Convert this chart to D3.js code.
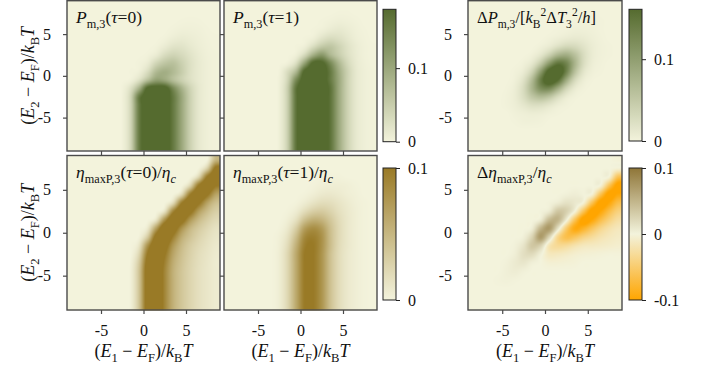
<!DOCTYPE html>
<html><head><meta charset="utf-8">
<script src="https://cdn.jsdelivr.net/npm/d3@7"></script>
<style>
body{margin:0;background:#fff}
svg{display:block}
text{font-family:"Liberation Serif","DejaVu Serif",serif;fill:#111}
</style></head>
<body><svg id="chart" width="706" height="370"></svg>
<script>
// ---------------- DATA (grid values, units of 0.01) ----------------
const gridX = [-8.5,-7.5,-6.5,-5.5,-4.5,-3.5,-2.5,-1.5,-0.5,0.5,1.5,2.5,3.5,4.5,5.5,6.5,7.5,8.5];
const gridY = [8.5,7.5,6.5,5.5,4.5,3.5,2.5,1.5,0.5,-0.5,-1.5,-2.5,-3.5,-4.5,-5.5,-6.5,-7.5,-8.5];
const xTicks = [-5, 0, 5];
const yTicks = [5, 0, -5];
const axisDomain = [-9, 9];

// P_m,3(tau=0)
const pm0 = [
[0,0,0,0,0,0,0,0,0,0,0,0,0,0,0,0,0,0],
[0,0,0,0,0,0,0,0,0,0,0,0,0,0,0,0,0,0],
[0,0,0,0,0,0,0,0,0,0,0,0,0,0.1,0.15,0.1,0,0],
[0,0,0,0,0,0,0,0,0,0,0,0,0.2,0.4,0.4,0.3,0.1,0],
[0,0,0,0,0,0,0,0,0,0,0,0.2,0.7,1,0.8,0.5,0.2,0.1],
[0,0,0,0,0,0,0,0,0,0,0.2,1,2,2,1.3,0.7,0.3,0.1],
[0,0,0,0,0,0,0,0,0,0.2,1,3,4,3.2,2,1,0.4,0.2],
[0,0,0,0,0,0,0,0,0.2,1,4,6,6.5,4.5,2.5,1.2,0.5,0.2],
[0,0,0,0,0,0,0,0.1,0.5,3,7.5,9,7.5,5,2.5,1.2,0.5,0.2],
[0,0,0,0,0,0,0,0.3,2.5,7,11,10,7,4.5,2.5,1.2,0.5,0.2],
[0,0,0,0,0,0,0.2,2.5,9,19,20,20,14,8.5,4,1.5,0.5,0.2],
[0,0,0,0,0,0,0.3,4,16,20,20,20,16,10,4.5,1.5,0.5,0.2],
[0,0,0,0,0,0,0.3,4,16,20,20,20,16,10,4.5,1.5,0.5,0.2],
[0,0,0,0,0,0,0.3,4,16,20,20,20,16,10,4.5,1.5,0.5,0.2],
[0,0,0,0,0,0,0.3,4,16,20,20,20,16,10,4.5,1.5,0.5,0.2],
[0,0,0,0,0,0,0.3,4,16,20,20,20,16,10,4.5,1.5,0.5,0.2],
[0,0,0,0,0,0,0.3,4,16,20,20,20,16,10,4.5,1.5,0.5,0.2],
[0,0,0,0,0,0,0.3,4,16,20,20,20,16,10,4.5,1.5,0.5,0.2]
];
// P_m,3(tau=1)
const pm1 = [
[0,0,0,0,0,0,0,0,0,0,0,0,0,0,0,0,0,0],
[0,0,0,0,0,0,0,0,0,0,0,0,0,0.1,0.1,0,0,0],
[0,0,0,0,0,0,0,0,0,0,0,0.1,0.3,0.5,0.4,0.2,0,0],
[0,0,0,0,0,0,0,0,0,0,0.1,0.4,1,1.3,0.9,0.4,0.1,0],
[0,0,0,0,0,0,0,0,0,0.1,0.5,2,3,2.5,1.5,0.6,0.2,0],
[0,0,0,0,0,0,0,0,0.1,0.6,3,5.5,6,4.2,2.3,1,0.3,0.1],
[0,0,0,0,0,0,0,0,0.5,3.5,9,12,8,5,2.6,1.1,0.3,0.1],
[0,0,0,0,0,0,0,0.4,3,11,19,19,14,8,3.6,1.3,0.4,0.1],
[0,0,0,0,0,0,0.2,3,8,19,20,20,16,9.5,4.5,1.5,0.5,0.2],
[0,0,0,0,0,0,0.4,4,14,20,20,20,16,10,4.5,1.5,0.5,0.2],
[0,0,0,0,0,0,0.5,5,17,20,20,20,17,10,4.5,1.5,0.5,0.2],
[0,0,0,0,0,0,0.5,5,17,20,20,20,17,10,4.5,1.5,0.5,0.2],
[0,0,0,0,0,0,0.5,5,17,20,20,20,17,10,4.5,1.5,0.5,0.2],
[0,0,0,0,0,0,0.5,5,17,20,20,20,17,10,4.5,1.5,0.5,0.2],
[0,0,0,0,0,0,0.5,5,17,20,20,20,17,10,4.5,1.5,0.5,0.2],
[0,0,0,0,0,0,0.5,5,17,20,20,20,17,10,4.5,1.5,0.5,0.2],
[0,0,0,0,0,0,0.5,5,17,20,20,20,17,10,4.5,1.5,0.5,0.2],
[0,0,0,0,0,0,0.5,5,17,20,20,20,17,10,4.5,1.5,0.5,0.2]
];
// Delta P_m,3 / [kB^2 dT3^2/h]
const dPm = [
[0,0,0,0,0,0,0,0,0,0,0,0,0,0,0,0,0,0],
[0,0,0,0,0,0,0,0,0,0,0,0,0,0,0.1,0,0,0],
[0,0,0,0,0,0,0,0,0,0,0,0,0.1,0.2,0.2,0.1,0,0],
[0,0,0,0,0,0,0,0,0,0,0.1,0.2,0.4,0.4,0.3,0.1,0,0],
[0,0,0,0,0,0,0,0,0,0.2,0.5,0.9,1.1,0.9,0.5,0.2,0,0],
[0,0,0,0,0,0,0,0,0.3,1.0,2.3,3.3,3.0,1.8,0.8,0.3,0.1,0],
[0,0,0,0,0,0,0,0.3,1.5,4.1,7.3,8.2,5.9,2.7,0.9,0.3,0.1,0],
[0,0,0,0,0,0,0.3,1.4,4.9,10.6,14.8,13.1,7.4,2.7,0.7,0.2,0,0],
[0,0,0,0,0,0.2,0.9,3.8,10.3,17.6,19.2,13.3,5.9,1.7,0.4,0.1,0,0],
[0,0,0,0,0,0.4,2.0,6.6,13.9,18.6,15.9,8.6,3.0,0.7,0.1,0,0,0],
[0,0,0,0,0.1,0.7,2.8,7.3,11.9,12.5,8.4,3.6,1.0,0.2,0,0,0,0],
[0,0,0,0,0.2,0.8,2.5,5.1,6.5,5.4,2.8,0.9,0.2,0,0,0,0,0],
[0,0,0,0,0.2,0.6,1.4,2.3,2.3,1.5,0.6,0.2,0,0,0,0,0,0],
[0,0,0,0,0,0.3,0.5,0.7,0.6,0.3,0.1,0,0,0,0,0,0,0],
[0,0,0,0,0,0.1,0.3,0.3,0.2,0,0,0,0,0,0,0,0,0],
[0,0,0,0,0,0,0,0,0,0,0,0,0,0,0,0,0,0],
[0,0,0,0,0,0,0,0,0,0,0,0,0,0,0,0,0,0],
[0,0,0,0,0,0,0,0,0,0,0,0,0,0,0,0,0,0]
];
// eta_maxP,3(tau=0)/eta_c
const eta0 = [
[0,0,0,0,0,0,0,0,0,0,0,0,0,0,0,0,0.1,5],
[0,0,0,0,0,0,0,0,0,0,0,0,0,0,0,0.1,3,10.8],
[0,0,0,0,0,0,0,0,0,0,0,0,0,0,0,2.5,10.2,13],
[0,0,0,0,0,0,0,0,0,0,0,0,0,0,2.5,10.2,13,10.2],
[0,0,0,0,0,0,0,0,0,0,0,0,0,2,9.6,13,10.6,6.7],
[0,0,0,0,0,0,0,0,0,0,0,0,2,9.6,13,10.6,6.7,4.3],
[0,0,0,0,0,0,0,0,0,0,0,1.5,9,13,11,7,4.5,3],
[0,0,0,0,0,0,0,0,0,0,1.3,8,13,11.4,7.4,4.7,3.1,2.1],
[0,0,0,0,0,0,0,0,0,1.0,7,13,11.8,7.8,4.9,3.3,2.2,1.4],
[0,0,0,0,0,0,0,0,0.2,3.5,11.4,13,9.4,5.8,3.9,2.6,1.7,1.1],
[0,0,0,0,0,0,0,0,1.3,8,13,11.4,7.4,4.7,3.1,2.1,1.4,0.85],
[0,0,0,0,0,0,0,0,2.5,10.2,13,10.2,6.4,4.2,2.8,1.8,1.2,0.7],
[0,0,0,0,0,0,0,0.2,3.5,11.4,13,9.4,5.8,3.9,2.6,1.7,1.1,0.6],
[0,0,0,0,0,0,0,0.3,4,12,13,9,5.5,3.7,2.5,1.6,1.05,0.65],
[0,0,0,0,0,0,0,0.3,4,12,13,9,5.5,3.7,2.5,1.6,1.05,0.65],
[0,0,0,0,0,0,0,0.3,4,12,13,9,5.5,3.7,2.5,1.6,1.05,0.65],
[0,0,0,0,0,0,0,0.3,4,12,13,9,5.5,3.7,2.5,1.6,1.05,0.65],
[0,0,0,0,0,0,0,0.3,4,12,13,9,5.5,3.7,2.5,1.6,1.05,0.65]
];
// eta_maxP,3(tau=1)/eta_c
const eta1 = [
[0,0,0,0,0,0,0,0,0,0,0,0,0,0,0,0,0,0],
[0,0,0,0,0,0,0,0,0,0,0,0,0,0,0,0,0,0],
[0,0,0,0,0,0,0,0,0,0,0,0.1,0.1,0.1,0,0,0,0],
[0,0,0,0,0,0,0,0,0,0,0.1,0.3,0.4,0.4,0.3,0.1,0,0],
[0,0,0,0,0,0,0,0,0,0.1,0.4,0.8,0.9,0.7,0.4,0.2,0,0],
[0,0,0,0,0,0,0,0,0.1,0.6,1.3,1.8,1.7,1.2,0.7,0.3,0.1,0],
[0,0,0,0,0,0,0,0.1,0.6,1.9,3,3.3,2.6,1.6,0.9,0.4,0.1,0],
[0,0,0,0,0,0,0,0.4,1.6,4.2,5.6,5.2,3.6,2,1,0.4,0.1,0],
[0,0,0,0,0,0,0.1,0.9,3.2,7,8.3,7.2,4.3,2.2,1,0.4,0.1,0],
[0,0,0,0,0,0,0.3,1.5,4.6,8.7,9.5,8,4.5,2.2,1,0.4,0.1,0],
[0,0,0,0,0,0,0.4,2,5.6,9.5,10,8,4.5,2.1,1,0.4,0.1,0],
[0,0,0,0,0,0,0.5,2.4,6.2,10,10,7.8,4.2,2,0.9,0.4,0.1,0],
[0,0,0,0,0,0,0.5,2.4,6.2,10,10,7.8,4.2,2,0.9,0.4,0.1,0],
[0,0,0,0,0,0,0.5,2.4,6.2,10,10,7.8,4.2,2,0.9,0.4,0.1,0],
[0,0,0,0,0,0,0.5,2.4,6.2,10,10,7.8,4.2,2,0.9,0.4,0.1,0],
[0,0,0,0,0,0,0.5,2.4,6.2,10,10,7.8,4.2,2,0.9,0.4,0.1,0],
[0,0,0,0,0,0,0.5,2.4,6.2,10,10,7.8,4.2,2,0.9,0.4,0.1,0],
[0,0,0,0,0,0,0.5,2.4,6.2,10,10,7.8,4.2,2,0.9,0.4,0.1,0]
];
// Delta eta_maxP,3/eta_c
const dEta = [
[0,0,0,0,0,0,0,0,0,0,0,0,0,0,0,0,0,-0.2],
[0,0,0,0,0,0,0,0,0,0,0,0,0,0,0,0,0,-0.3],
[0,0,0,0,0,0,0,0,0,0,0,0,0,0,0,0,-0.3,-6],
[0,0,0,0,0,0,0,0,0,0,0,0,0,0,0,-0.3,-6,-10.9],
[0,0,0,0,0,0,0,0,0,0,0,0.2,0.4,0.1,-0.3,-6,-10.9,-9.7],
[0,0,0,0,0,0,0,0,0,0.1,0.6,1.4,0.9,-0.3,-6,-10.9,-9.7,-6.8],
[0,0,0,0,0,0,0,0,0.1,0.8,3.5,2.8,-0.1,-6,-10.9,-9.7,-6.8,-4.4],
[0,0,0,0,0,0,0,0,0.7,4.5,5,0.5,-6,-10.9,-9.7,-6.8,-4.4,-2.7],
[0,0,0,0,0,0,0,0.6,5,7,1.4,-5,-9.3,-8.2,-5.8,-3.7,-2.3,-1.5],
[0,0,0,0,0,0,0.3,2.6,7,2.4,-3.6,-6.5,-5.8,-4.1,-3.0,-2.0,-1.4,-1.0],
[0,0,0,0,0,0.2,1.2,3.5,2.6,-1.8,-3.2,-3.0,-2.1,-1.4,-1.2,-1.0,-0.8,-0.6],
[0,0,0,0,0,0.4,1.6,1.9,0.3,-1.3,-1.3,-1.0,-0.6,-0.4,-0.3,-0.2,-0.1,-0.1],
[0,0,0,0,0.2,0.7,1.0,0.3,0,-0.4,-0.4,-0.3,-0.2,0,0,0,0,0],
[0,0,0,0,0.3,0.5,0.2,0,0,0,0,0,0,0,0,0,0,0],
[0,0,0,0.1,0.2,0.1,0,0,0,0,0,0,0,0,0,0,0,0],
[0,0,0,0,0,0,0,0,0,0,0,0,0,0,0,0,0,0],
[0,0,0,0,0,0,0,0,0,0,0,0,0,0,0,0,0,0],
[0,0,0,0,0,0,0,0,0,0,0,0,0,0,0,0,0,0]
];
const gridUnit = 0.01;

// colour-bar ranges and ticks
const cbGreenDomain = [0, 0.18];
const cbDeltaPDomain = [0, 0.161];
const cbEtaDomain = [0, 0.1];
const cbDeltaEtaDomain = [-0.1, 0.1];
const cbTicksGreen = [0, 0.1];
const cbTicksEta = [0, 0.1];
const cbTicksDeltaEta = [-0.1, 0, 0.1];

// ---------------- STYLE / LAYOUT ----------------
const CREAM = "#f3f3dc";
const greenScale = d3.scaleLinear().domain(cbGreenDomain).range([CREAM, "#556b2f"]).clamp(true);
const deltaPScale = d3.scaleLinear().domain(cbDeltaPDomain).range([CREAM, "#556b2f"]).clamp(true);
const etaScale = d3.scaleLinear().domain(cbEtaDomain).range([CREAM, "#997a26"]).clamp(true);
const deltaEtaScale = d3.scaleLinear().domain([-0.1, 0, 0.1]).range(["#ffa500", CREAM, "#8f7638"]).clamp(true);

const cols = [[67,220],[224,377],[468,622]];
const rows = [[0.7,151],[155.5,310]];
const FRAME = "#4a4a4a";
const svg = d3.select("#chart");
svg.append("rect").attr("width",706).attr("height",370).attr("fill","#fff");

function richText(parent, x, y, parts, size) {
  const t = parent.append("text").attr("x", x).attr("y", y).attr("font-size", size);
  let cur = 0;
  parts.forEach(p => {
    let off = 0, fs = size;
    if (p.sub) { off = size * 0.3; fs = size * 0.7; }
    if (p.sup) { off = -size * 0.4; fs = size * 0.7; }
    const ts = t.append("tspan").text(p.t).attr("font-size", fs).attr("dy", off - cur);
    if (p.it) ts.attr("font-style", "italic");
    cur = off;
  });
  return t;
}

function sampleGrid(grid, xv, yv) {
  const fx = (xv - gridX[0]) / (gridX[1] - gridX[0]);
  const fy = (yv - gridY[0]) / (gridY[1] - gridY[0]);
  const nx = gridX.length, ny = gridY.length;
  const ci = i => Math.max(0, Math.min(nx - 1, i));
  const cj = j => Math.max(0, Math.min(ny - 1, j));
  const i0 = Math.floor(fx), j0 = Math.floor(fy);
  const tx = fx - i0, ty = fy - j0;
  const cr = (p0,p1,p2,p3,t) => p1 + 0.5*t*(p2-p0 + t*(2*p0-5*p1+4*p2-p3 + t*(3*(p1-p2)+p3-p0)));
  const rowv = [];
  for (let k = -1; k <= 2; k++) {
    const r = grid[cj(j0 + k)];
    rowv.push(cr(r[ci(i0-1)], r[ci(i0)], r[ci(i0+1)], r[ci(i0+2)], tx));
  }
  return cr(rowv[0], rowv[1], rowv[2], rowv[3], ty) * gridUnit;
}

function drawHeat(g, grid, color, x, y) {
  const [px0, px1] = x.range();
  const [py1, py0] = y.range();
  const w = Math.round(px1 - px0), h = Math.round(py1 - py0);
  const cv = document.createElement("canvas");
  cv.width = w; cv.height = h;
  const ctx = cv.getContext("2d");
  const img = ctx.createImageData(w, h);
  for (let j = 0; j < h; j++) {
    const yv = y.invert(py0 + j + 0.5);
    for (let i = 0; i < w; i++) {
      const xv = x.invert(px0 + i + 0.5);
      const c = d3.rgb(color(sampleGrid(grid, xv, yv)));
      const o = 4 * (j * w + i);
      img.data[o] = c.r; img.data[o+1] = c.g; img.data[o+2] = c.b; img.data[o+3] = 255;
    }
  }
  ctx.putImageData(img, 0, 0);
  g.append("image").attr("x", px0).attr("y", py0).attr("width", w).attr("height", h)
    .attr("preserveAspectRatio", "none").attr("href", cv.toDataURL());
}

const fmt = d => String(d);
const panels = [
  {grid: pm0, color: greenScale, c: 0, r: 0, yLab: true, xLab: false,
   label: [{t:"P",it:1},{t:"m,3",sub:1},{t:"("},{t:"τ",it:1},{t:"=0)"}]},
  {grid: pm1, color: greenScale, c: 1, r: 0, yLab: false, xLab: false,
   label: [{t:"P",it:1},{t:"m,3",sub:1},{t:"("},{t:"τ",it:1},{t:"=1)"}]},
  {grid: dPm, color: deltaPScale, c: 2, r: 0, yLab: true, xLab: false,
   label: [{t:"Δ"},{t:"P",it:1},{t:"m,3",sub:1},{t:"/["},{t:"k",it:1},{t:"B",sub:1},{t:"2",sup:1},{t:"Δ"},{t:"T",it:1},{t:"3",sub:1},{t:"2",sup:1},{t:"/"},{t:"h",it:1},{t:"]"}]},
  {grid: eta0, color: etaScale, c: 0, r: 1, yLab: true, xLab: true,
   label: [{t:"η",it:1},{t:"maxP,3",sub:1},{t:"("},{t:"τ",it:1},{t:"=0)/"},{t:"η",it:1},{t:"c",sub:1,it:1}]},
  {grid: eta1, color: etaScale, c: 1, r: 1, yLab: false, xLab: true,
   label: [{t:"η",it:1},{t:"maxP,3",sub:1},{t:"("},{t:"τ",it:1},{t:"=1)/"},{t:"η",it:1},{t:"c",sub:1,it:1}]},
  {grid: dEta, color: deltaEtaScale, c: 2, r: 1, yLab: true, xLab: true,
   label: [{t:"Δ"},{t:"η",it:1},{t:"maxP,3",sub:1},{t:"/"},{t:"η",it:1},{t:"c",sub:1,it:1}]}
];

const FS_TICK = 16, FS_LAB = 17.5, FS_TITLE = 18;
panels.forEach(p => {
  const [x0, x1] = cols[p.c], [y0, y1] = rows[p.r];
  const x = d3.scaleLinear().domain(axisDomain).range([x0, x1]);
  const y = d3.scaleLinear().domain(axisDomain).range([y1, y0]);
  const g = svg.append("g");
  drawHeat(g, p.grid, p.color, x, y);
  g.append("rect").attr("x", x0).attr("y", y0).attr("width", x1 - x0).attr("height", y1 - y0)
    .attr("fill", "none").attr("stroke", FRAME).attr("stroke-width", 1.4);
  const ay = g.append("g").attr("transform", `translate(${x0},0)`)
    .call(d3.axisLeft(y).tickValues(yTicks).tickSize(4).tickPadding(12).tickFormat(p.yLab ? fmt : ""));
  const ax = g.append("g").attr("transform", `translate(0,${y1})`)
    .call(d3.axisBottom(x).tickValues(xTicks).tickSize(4).tickPadding(11).tickFormat(p.xLab ? fmt : ""));
  [ax, ay].forEach(a => {
    a.select(".domain").remove();
    a.selectAll(".tick line").attr("stroke", FRAME).attr("stroke-width", 1.2);
    a.selectAll(".tick text").attr("font-size", FS_TICK).attr("font-family", "Liberation Serif, serif").attr("fill", "#111");
  });
  richText(g, x0 + 9, y0 + 22, p.label, p.c === 2 && p.r === 0 ? 16.5 : FS_LAB);
  if (p.xLab) {
    richText(g, (x0 + x1) / 2, 357, [{t:"("},{t:"E",it:1},{t:"1",sub:1},{t:" − "},{t:"E",it:1},{t:"F",sub:1},{t:")/"},{t:"k",it:1},{t:"B",sub:1},{t:"T",it:1}], FS_TITLE)
      .attr("text-anchor", "middle");
  }
  if (p.c === 0) {
    const gy = svg.append("g").attr("transform", `translate(34,${(y0 + y1) / 2}) rotate(-90)`);
    richText(gy, 0, 0, [{t:"("},{t:"E",it:1},{t:"2",sub:1},{t:" − "},{t:"E",it:1},{t:"F",sub:1},{t:")/"},{t:"k",it:1},{t:"B",sub:1},{t:"T",it:1}], FS_TITLE)
      .attr("text-anchor", "middle");
  }
});

// ---------------- colour bars ----------------
const cbars = [
  {scale: greenScale, domain: cbGreenDomain, ticks: cbTicksGreen, x: 383, y0: 9.3, y1: 141.7},
  {scale: deltaPScale, domain: cbDeltaPDomain, ticks: cbTicksGreen, x: 629, y0: 9.3, y1: 141},
  {scale: etaScale, domain: cbEtaDomain, ticks: cbTicksEta, x: 383, y0: 168, y1: 300},
  {scale: deltaEtaScale, domain: cbDeltaEtaDomain, ticks: cbTicksDeltaEta, x: 629, y0: 168, y1: 300}
];
const defs = svg.append("defs");
cbars.forEach((cb, k) => {
  const id = "cbg" + k;
  const grad = defs.append("linearGradient").attr("id", id).attr("x1", 0).attr("y1", 1).attr("x2", 0).attr("y2", 0);
  d3.range(0, 1.0001, 0.05).forEach(t => {
    const v = cb.domain[0] + t * (cb.domain[1] - cb.domain[0]);
    grad.append("stop").attr("offset", t).attr("stop-color", cb.scale(v));
  });
  const w = 13;
  svg.append("rect").attr("x", cb.x).attr("y", cb.y0).attr("width", w).attr("height", cb.y1 - cb.y0)
    .attr("fill", `url(#${id})`).attr("stroke", "#222").attr("stroke-width", 1);
  const s = d3.scaleLinear().domain(cb.domain).range([cb.y1, cb.y0]);
  const a = svg.append("g").attr("transform", `translate(${cb.x + w},0)`)
    .call(d3.axisRight(s).tickValues(cb.ticks).tickSize(4).tickPadding(8).tickFormat(fmt));
  a.select(".domain").remove();
  a.selectAll(".tick line").attr("stroke", "#222");
  a.selectAll(".tick text").attr("font-size", FS_TICK).attr("font-family", "Liberation Serif, serif").attr("fill", "#111");
});
</script>
</body></html>
